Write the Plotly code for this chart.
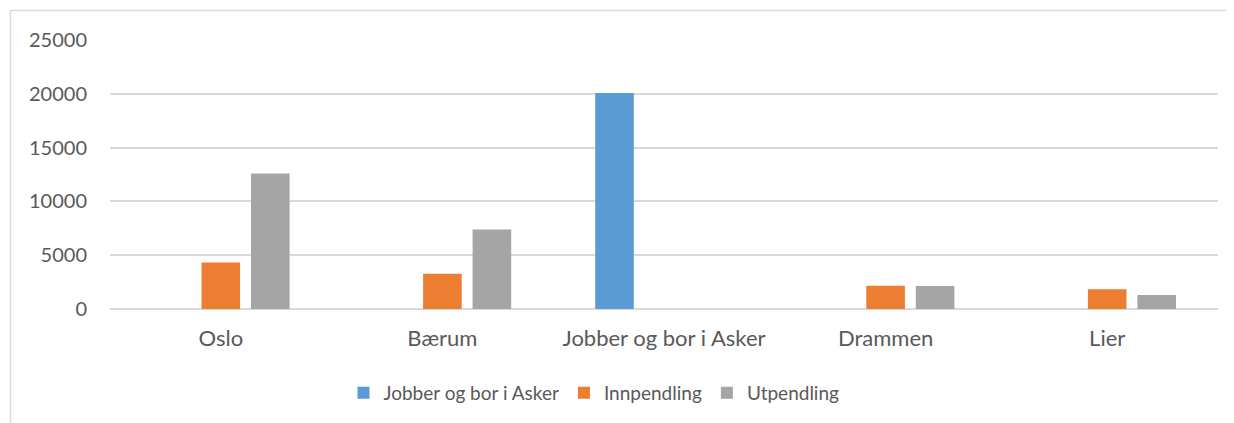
import plotly.graph_objects as go

categories = ["Oslo", "Bærum", "Jobber og bor i Asker", "Drammen", "Lier"]
series_names = ["Jobber og bor i Asker", "Innpendling", "Utpendling"]
jobber = [None, None, 20080, None, None]
innpendling = [4330, 3280, None, 2170, 1825]
utpendling = [12600, 7390, None, 2130, 1300]
colors = ["#5B9BD5", "#ED7D31", "#A5A5A5"]
y_ticks = [0, 5000, 10000, 15000, 20000, 25000]

FONT = "Lato"
TXT = "#595959"

fig = go.Figure()
for name, vals, col in zip(series_names, [jobber, innpendling, utpendling], colors):
    fig.add_trace(go.Bar(x=categories, y=vals, name=name, marker_color=col,
                         marker_line_width=0))

# page has an 8px body margin; size the figure so the page matches the reference
OFF = 8
W, H = 1234 - OFF, 423 - OFF
L, R, T, B = 110 - OFF, 16, 40 - OFF, 113
pw, ph = W - L - R, H - T - B

def px_to_paper(px, py):
    fx, fy = px - OFF, py - OFF
    return (fx - L) / pw, (H - B - fy) / ph

x0, y0 = px_to_paper(10.5, 10.5)
x1, y1 = px_to_paper(1260, 450)
lx, ly = px_to_paper(594, 393)

fig.update_layout(
    width=W, height=H,
    margin=dict(l=L, r=R, t=T, b=B),
    paper_bgcolor="white", plot_bgcolor="white",
    barmode="group", bargap=0.33, bargroupgap=0.22,
    font=dict(family=FONT, color=TXT, size=20),
    xaxis=dict(showgrid=False, showline=False, ticks="",
               tickfont=dict(size=22, color=TXT, family=FONT),
               ticklabelstandoff=14),
    yaxis=dict(range=[0, 25000], tickvals=y_ticks, showgrid=True,
               gridcolor="#D9D9D9", gridwidth=1.5, zeroline=True,
               zerolinecolor="#D9D9D9", zerolinewidth=1.5, showline=False,
               ticks="", tickfont=dict(size=20, color=TXT, family=FONT),
               ticklabelstandoff=22, tickformat="d"),
    legend=dict(orientation="h", x=lx, xanchor="center", y=ly, yanchor="middle",
                font=dict(size=19, color=TXT, family=FONT), itemsizing="constant",
                traceorder="normal", itemwidth=30),
    shapes=[dict(type="rect", xref="paper", yref="paper", x0=x0, y0=y1, x1=x1, y1=y0,
                 line=dict(color="#D9D9D9", width=1.5), layer="below")],
)

fig.write_html("out.html", config={"displayModeBar": False})
